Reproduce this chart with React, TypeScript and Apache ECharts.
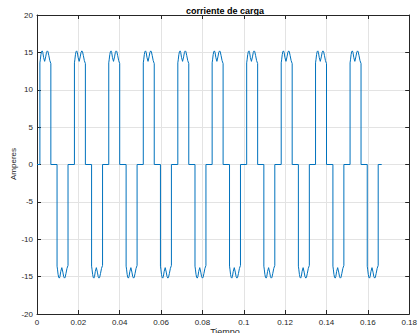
import React, { useEffect, useRef } from 'react';
import * as echarts from 'echarts';

// Axis ticks
const xTicks = [0, 0.02, 0.04, 0.06, 0.08, 0.1, 0.12, 0.14, 0.16, 0.18];
const yTicks = [-20, -15, -10, -5, 0, 5, 10, 15, 20];

// Times (s) at which each conduction pulse begins
const positiveStarts = [0.0014, 0.0181, 0.0347, 0.0514, 0.0681, 0.0847, 0.1014, 0.1181, 0.1347, 0.1514];
const negativeStarts = [0.0097, 0.0264, 0.0431, 0.0597, 0.0764, 0.0931, 0.1097, 0.1264, 0.1431, 0.1597];

// Shape of one pulse: time offset (s) and magnitude (A)
const pulseOffsets = [0, 0, 0.0002, 0.0005, 0.0008, 0.0011, 0.0014, 0.0018, 0.0023, 0.0028, 0.0032, 0.0036, 0.0039, 0.0043, 0.0048, 0.0053, 0.0053];
const pulseMagnitudes = [0, 13.6, 14.0, 14.7, 15.1, 15.2, 15.0, 14.3, 13.8, 14.4, 15.0, 15.2, 15.1, 14.6, 13.9, 13.5, 0];

const traceStart = 0;
const traceEnd = 0.1667;

const FONT = 'Liberation Sans, Arial, Helvetica, sans-serif';
const AX = '#262626';
const GRID = '#e3e3e3';

function buildSeries(): [number, number][] {
  const pulses = [
    ...positiveStarts.map((s) => ({ s, sign: 1 })),
    ...negativeStarts.map((s) => ({ s, sign: -1 })),
  ].sort((a, b) => a.s - b.s);
  const pts: [number, number][] = [[traceStart, 0]];
  for (const p of pulses) {
    for (let i = 0; i < pulseOffsets.length; i++) {
      pts.push([p.s + pulseOffsets[i], p.sign * pulseMagnitudes[i]]);
    }
  }
  pts.push([traceEnd, 0]);
  return pts;
}

export default function App() {
  const ref = useRef<HTMLDivElement>(null);
  useEffect(() => {
    if (!ref.current) return;
    const chart = echarts.init(ref.current, undefined, { renderer: 'svg' });
    const fmt = (v: number) => String(Math.round(v * 100) / 100);
    const baseX = {
      type: 'value' as const,
      min: xTicks[0],
      max: xTicks[xTicks.length - 1],
      interval: 0.02,
    };
    const baseY = {
      type: 'value' as const,
      min: yTicks[0],
      max: yTicks[yTicks.length - 1],
      interval: 5,
    };
    chart.setOption({
      animation: false,
      backgroundColor: '#ffffff',
      grid: { left: 37, right: 8, top: 15, bottom: 19, containLabel: false },
      xAxis: [
        {
          ...baseX,
          position: 'bottom',
          axisLine: { show: true, onZero: false, lineStyle: { color: AX, width: 1 } },
          axisTick: { show: true, inside: true, length: 4, lineStyle: { color: AX } },
          splitLine: { show: true, lineStyle: { color: GRID, width: 1 } },
          axisLabel: { show: true, color: AX, fontSize: 8, fontFamily: FONT, margin: 4, formatter: fmt },
        },
        {
          ...baseX,
          position: 'top',
          axisLine: { show: true, onZero: false, lineStyle: { color: AX, width: 1 } },
          axisTick: { show: true, inside: true, length: 4, lineStyle: { color: AX } },
          splitLine: { show: false },
          axisLabel: { show: false },
        },
      ],
      yAxis: [
        {
          ...baseY,
          position: 'left',
          axisLine: { show: true, onZero: false, lineStyle: { color: AX, width: 1 } },
          axisTick: { show: true, inside: true, length: 4, lineStyle: { color: AX } },
          splitLine: { show: true, lineStyle: { color: GRID, width: 1 } },
          axisLabel: { show: true, color: AX, fontSize: 8, fontFamily: FONT, margin: 4 },
        },
        {
          ...baseY,
          position: 'right',
          axisLine: { show: true, onZero: false, lineStyle: { color: AX, width: 1 } },
          axisTick: { show: true, inside: true, length: 4, lineStyle: { color: AX } },
          splitLine: { show: false },
          axisLabel: { show: false },
        },
      ],
      graphic: [
        {
          type: 'text',
          x: 225,
          y: 10.5,
          style: {
            text: 'corriente de carga',
            fill: '#000000',
            font: `bold 9px ${FONT}`,
            align: 'center',
            verticalAlign: 'middle',
          },
        },
        {
          type: 'text',
          x: 225,
          y: 331.5,
          style: {
            text: 'Tiempo',
            fill: AX,
            font: `9px ${FONT}`,
            align: 'center',
            verticalAlign: 'middle',
          },
        },
        {
          type: 'text',
          x: 13,
          y: 164,
          rotation: Math.PI / 2,
          style: {
            text: 'Amperes',
            fill: AX,
            font: `8px ${FONT}`,
            align: 'center',
            verticalAlign: 'middle',
          },
        },
      ],
      series: [
        {
          type: 'line',
          xAxisIndex: 0,
          yAxisIndex: 0,
          data: buildSeries(),
          showSymbol: false,
          symbol: 'none',
          lineStyle: { color: '#0072BD', width: 1 },
          itemStyle: { color: '#0072BD' },
        },
      ],
    });
    return () => chart.dispose();
  }, []);
  return (
    <div
      ref={ref}
      style={{ position: 'absolute', left: 0, top: 0, width: 420, height: 333, background: '#fff' }}
    />
  );
}
